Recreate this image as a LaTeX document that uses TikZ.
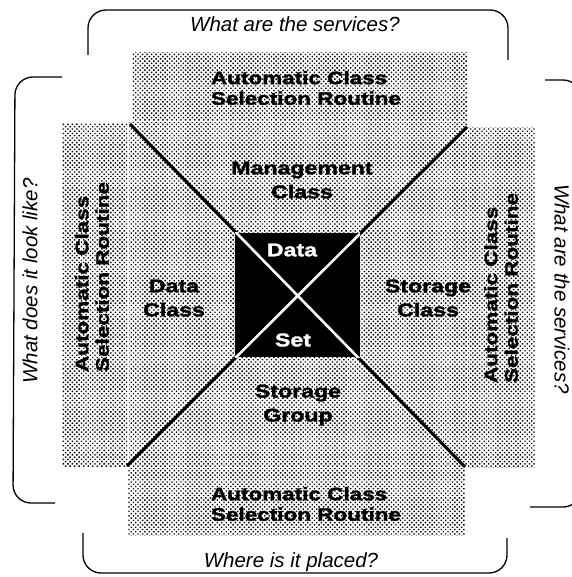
\documentclass[tikz,border=0pt]{standalone}
\usepackage{fontspec}
\setmainfont{Liberation Sans}
\newfontfamily\heavyfont[FakeStretch=1.25,FakeBold=1.6]{Liberation Sans}
\usetikzlibrary{patterns.meta}

\tikzset{
  screen/.style={draw=none, pattern={Dots[radius=1pt,distance=3.2pt,angle=45]}, pattern color=black},
  bracket/.style={line width=1.3pt, rounded corners=18pt},
  question/.style={font=\fontsize{20.5}{24}\selectfont\itshape, inner sep=0pt},
  heavy/.style={font=\heavyfont\bfseries\fontsize{18.5}{24}\selectfont, align=center, inner sep=0pt},
  routine/.style={font=\heavyfont\bfseries\fontsize{18}{20.5}\selectfont, align=left, inner sep=0pt},
  diag/.style={line width=3pt},
}

\begin{document}
\begin{tikzpicture}[x=1pt,y=-1pt]
\useasboundingbox (0,0) rectangle (571,577);

% screened panels
\path[screen] (132,53) rectangle (467,121);
\path[screen] (62,124) rectangle (127,466);
\path[screen] (468,128) rectangle (535,467);
\path[screen] (128,468) rectangle (465,535);
\path[screen] (129,123) rectangle (467,466);

% corners of the central panel
\coordinate (nw) at (130,124);
\coordinate (ne) at (467,127);
\coordinate (sw) at (127,466);
\coordinate (se) at (465,467);

% diagonals
\draw[diag] (nw) -- (se);
\draw[diag] (ne) -- (sw);

% data set square
\node[fill=black, minimum width=125pt, minimum height=124pt, inner sep=0pt] (ds) at (297.5,295) {};
\begin{scope}
  \clip (ds.north west) rectangle (ds.south east);
  \draw[white, line width=2.6pt] (nw) -- (se);
  \draw[white, line width=2.6pt] (ne) -- (sw);
\end{scope}
\node[heavy, text=white] (data) at (292,250) {Data};
\node[heavy, text=white] (set) at (293,340) {Set};

% class labels
\node[heavy] (mgmt) at (302,180) {Management\\Class};
\node[heavy] (dclass) at (174,298) {Data\\Class};
\node[heavy] (sclass) at (428,298) {Storage\\Class};
\node[heavy] (sgroup) at (298,405) {Storage\\Group};

% routines
\node[routine] (acsTop) at (306,88) {Automatic Class\\Selection Routine};
\node[routine] (acsBottom) at (306,504) {Automatic Class\\Selection Routine};
\node[routine, rotate=90] (acsLeft) at (92,277) {Automatic Class\\Selection Routine};
\node[routine, rotate=90] (acsRight) at (501,288) {Automatic Class\\Selection Routine};

% brackets
\draw[bracket] (88,55) -- (88,10) -- (508,10) -- (508,60);
\draw[bracket] (62,77) -- (15,77) -- (13,503) -- (55,503);
\draw[bracket] (545,80) -- (581,80) -- (581,507) -- (530,507);
\draw[bracket] (83,533) -- (83,573) -- (507,573) -- (507,538);

% questions
\node[question] (qTop) at (295,24) {What are the services?};
\node[question, rotate=90] (qLeft) at (30,281) {What does it look like?};
\node[question, rotate=-90] (qRight) at (562,289) {What are the services?};
\node[question] (qBottom) at (291,562) {Where is it placed?};
\end{tikzpicture}
\end{document}
